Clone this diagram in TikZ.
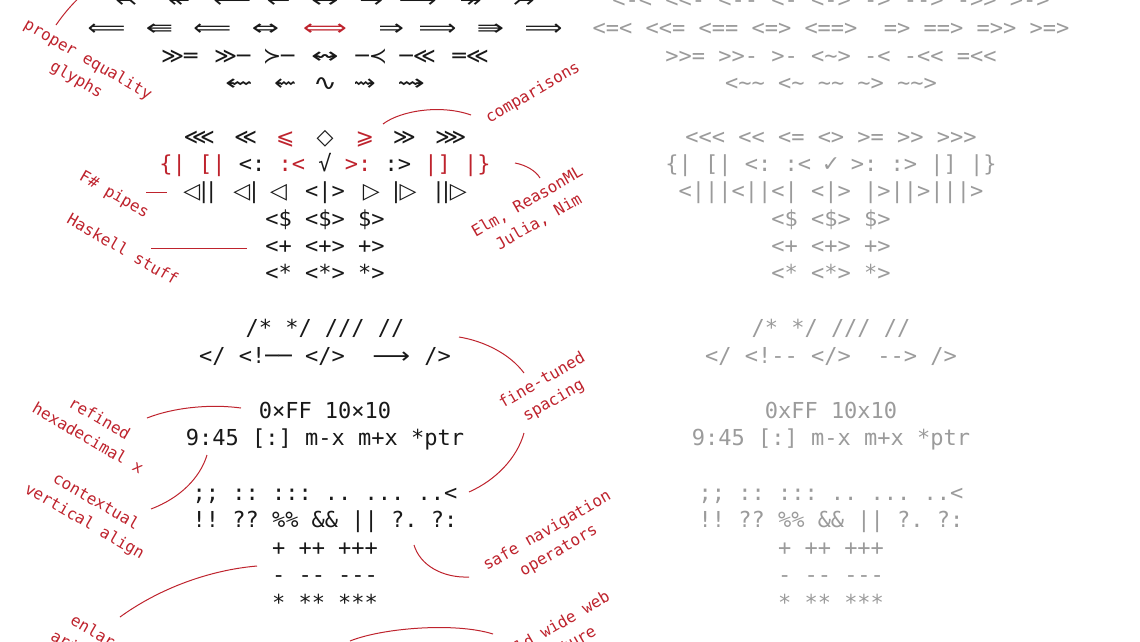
\documentclass[tikz,border=0pt]{standalone}
\usepackage{fontspec}
\setmonofont{DejaVu Sans Mono}
\newfontfamily\symf{DejaVu Sans}
\usetikzlibrary{positioning}
\definecolor{NoteRed}{RGB}{190,35,45}
\definecolor{InkBlack}{RGB}{25,25,25}
\definecolor{PlainGray}{RGB}{155,155,155}
\newlength{\cw}
\setlength{\cw}{13.245pt}
\newcommand{\rowfont}{\ttfamily\fontsize{22}{26}\selectfont}
\newcommand{\notefont}{\ttfamily\fontsize{16}{23}\selectfont}
\newcommand{\lig}[3][1]{\makebox[#2\cw]{\symf\scalebox{#1}[1]{#3}}}
\newcommand{\hl}[1]{\textcolor{NoteRed}{#1}}
\newcommand{\tld}{\textasciitilde}

\begin{document}
\begin{tikzpicture}[x=1pt,y=-1pt,
  ligrow/.style={font=\rowfont, text=InkBlack, anchor=base, inner sep=0pt},
  asciirow/.style={font=\rowfont, text=PlainGray, anchor=base, inner sep=0pt},
  note/.style={font=\notefont, text=NoteRed, align=center, inner sep=0pt},
  lead/.style={NoteRed, line width=1pt}]
\useasboundingbox (0,0) rectangle (1140,641);
\clip (0,0) rectangle (1140,641);

% ligature column
\node[ligrow] (b0) at (325,7) {\lig[1.2]{3}{↢} \lig[1.2]{3}{↞} \lig[1.2]{3}{⟵} \lig[1.3]{2}{←} \lig[1.5]{3}{↔} \lig[1.3]{2}{→} \lig[1.2]{3}{⟶} \lig[1.2]{3}{↠} \lig[1.2]{3}{↣}};
\node[ligrow] (b1) at (325,35) {\lig[1.2]{3}{⟸} \lig[1.5]{3}{⇚} \lig[1.2]{3}{⟸} \lig[1.5]{3}{⇔} \hl{\lig[1.4]{4}{⟺}}\ \ \lig[1.4]{2}{⇒} \lig[1.2]{3}{⟹} \lig[1.5]{3}{⇛} \lig[1.2]{3}{⟹}};
\node[ligrow] (b2) at (325,63) {\lig{3}{≫\ttfamily═} \lig{3}{≫\ttfamily─} \lig{2}{≻\ttfamily─} \lig[1.5]{3}{↭} \lig{2}{\ttfamily─\symf≺} \lig{3}{\ttfamily─\symf≪} \lig{3}{\ttfamily═\symf≪}};
\node[ligrow] (b3) at (325,90) {\lig[1.5]{3}{⇜} \lig[1.2]{2}{⇜} \lig[1.3]{2}{∿} \lig[1.2]{2}{⇝} \lig[1.5]{3}{⇝}};
\node[ligrow] (b4) at (325,144) {\lig{3}{⋘} \lig{2}{≪} \hl{\lig{2}{⩽}} \lig{2}{◇} \hl{\lig{2}{⩾}} \lig{2}{≫} \lig{3}{⋙}};
\node[ligrow] (b5) at (325,171) {\hl{\{|} \hl{[|} <: \hl{:<} √ \hl{>:} :> \hl{|]} \hl{|\}}};
\node[ligrow] (b6) at (325,198) {\lig{4}{◁||}\lig{3}{◁|}\lig{2}{◁} <|> \lig{2}{▷}\lig{3}{|▷}\lig{4}{||▷}};
\node[ligrow] (b7) at (325,226) {<\$ <\$> \$>};
\node[ligrow] (b8) at (325,253) {<+ <+> +>};
\node[ligrow] (b9) at (325,280) {<* <*> *>};
\node[ligrow] (b10) at (325,335) {/* */ /// //};
\node[ligrow] (b11) at (325,363) {</ <!── </>\ \ \lig[1.2]{3}{⟶} />};
\node[ligrow] (b12) at (325,418) {0×FF 10×10};
\node[ligrow] (b13) at (325,445) {9:45 [:] m-x m+x *ptr};
\node[ligrow] (b14) at (325,500) {;; :: ::: .. ... ..<};
\node[ligrow] (b15) at (325,527) {!! ?? \%\% \&\& || ?. ?:};
\node[ligrow] (b16) at (325,555) {+ ++ +++};
\node[ligrow] (b17) at (325,582) {- -- ---};
\node[ligrow] (b18) at (325,610) {* ** ***};

% plain column
\node[asciirow] (a0) at (831,7) {<-< <<- <-- <- <-> -> --> ->> >->};
\node[asciirow] (a1) at (831,35) {<=< <<= <== <=> <==>\ \ => ==> =>> >=>};
\node[asciirow] (a2) at (831,63) {>>= >>- >- <\tld> -< -<< =<<};
\node[asciirow] (a3) at (831,90) {<\tld\tld{} <\tld{} \tld\tld{} \tld> \tld\tld>};
\node[asciirow] (a4) at (831,144) {<<< << <= <> >= >> >>>};
\node[asciirow] (a5) at (831,171) {\{| [| <: :< \lig{1}{✓} >: :> |] |\}};
\node[asciirow] (a6) at (831,198) {<|||<||<| <|> |>||>|||>};
\node[asciirow] (a7) at (831,226) {<\$ <\$> \$>};
\node[asciirow] (a8) at (831,253) {<+ <+> +>};
\node[asciirow] (a9) at (831,280) {<* <*> *>};
\node[asciirow] (a10) at (831,335) {/* */ /// //};
\node[asciirow] (a11) at (831,363) {</ <!-- </>\ \ --> />};
\node[asciirow] (a12) at (831,418) {0xFF 10x10};
\node[asciirow] (a13) at (831,445) {9:45 [:] m-x m+x *ptr};
\node[asciirow] (a14) at (831,500) {;; :: ::: .. ... ..<};
\node[asciirow] (a15) at (831,527) {!! ?? \%\% \&\& || ?. ?:};
\node[asciirow] (a16) at (831,555) {+ ++ +++};
\node[asciirow] (a17) at (831,582) {- -- ---};
\node[asciirow] (a18) at (831,610) {* ** ***};

% notes
\node[note, rotate=-30] (proper) at (82,70) {proper equality\\glyphs};
\node[note, rotate=30] (cmp) at (533,93) {comparisons};
\node[note, rotate=-30] (fsharp) at (114,195) {F\# pipes};
\node[note, rotate=-30] (haskell) at (123,249) {Haskell stuff};
\node[note, rotate=30] (elm) at (533,212) {Elm, ReasonML\\Julia, Nim};
\node[note, rotate=30] (spacing) at (548,391) {fine-tuned\\spacing};
\node[note, rotate=-30] (hex) at (94,428) {refined\\hexadecimal x};
\node[note, rotate=-30] (vert) at (90,512) {contextual\\vertical align};
\node[note, rotate=30] (safe) at (553,541) {safe navigation\\operators};
\node[note, rotate=-30] (arith) at (100,648) {enlarged\\arithmetic};
\node[note, rotate=30] (www) at (556,640) {world wide web\\ligature};

% leader ends
\coordinate (pqA) at (56,25);   \coordinate (pqB) at (81,-4);
\coordinate (cmpA) at (383,124); \coordinate (cmpB) at (471,115);
\coordinate (elmA) at (515,163); \coordinate (elmB) at (540,178);
\coordinate (fsA) at (146,192);  \coordinate (fsB) at (167,192);
\coordinate (hsA) at (151,248);  \coordinate (hsB) at (247,248);
\coordinate (spA) at (459,337);  \coordinate (spB) at (524,373);
\coordinate (spC) at (524,433);  \coordinate (spD) at (469,492);
\coordinate (hxA) at (147,418);  \coordinate (hxB) at (241,408);
\coordinate (vtA) at (207,455);  \coordinate (vtB) at (151,509);
\coordinate (sfA) at (414,545);  \coordinate (sfB) at (469,577);
\coordinate (arA) at (120,617);  \coordinate (arB) at (257,566);
\coordinate (wwA) at (350,641);  \coordinate (wwB) at (493,634);

\draw[lead] (pqA) .. controls (63,15) and (71,5) .. (pqB);
\draw[lead] (cmpA) .. controls (400,111) and (440,104) .. (cmpB);
\draw[lead] (elmA) .. controls (526,165) and (536,171) .. (elmB);
\draw[lead] (fsA) -- (fsB);
\draw[lead] (hsA) -- (hsB);
\draw[lead] (spA) .. controls (484,341) and (510,354) .. (spB);
\draw[lead] (spC) .. controls (517,458) and (496,480) .. (spD);
\draw[lead] (hxA) .. controls (175,407) and (212,404) .. (hxB);
\draw[lead] (vtA) .. controls (200,478) and (180,498) .. (vtB);
\draw[lead] (sfA) .. controls (420,565) and (442,578) .. (sfB);
\draw[lead] (arA) .. controls (160,588) and (210,570) .. (arB);
\draw[lead] (wwA) .. controls (382,628) and (455,622) .. (wwB);
\end{tikzpicture}
\end{document}
